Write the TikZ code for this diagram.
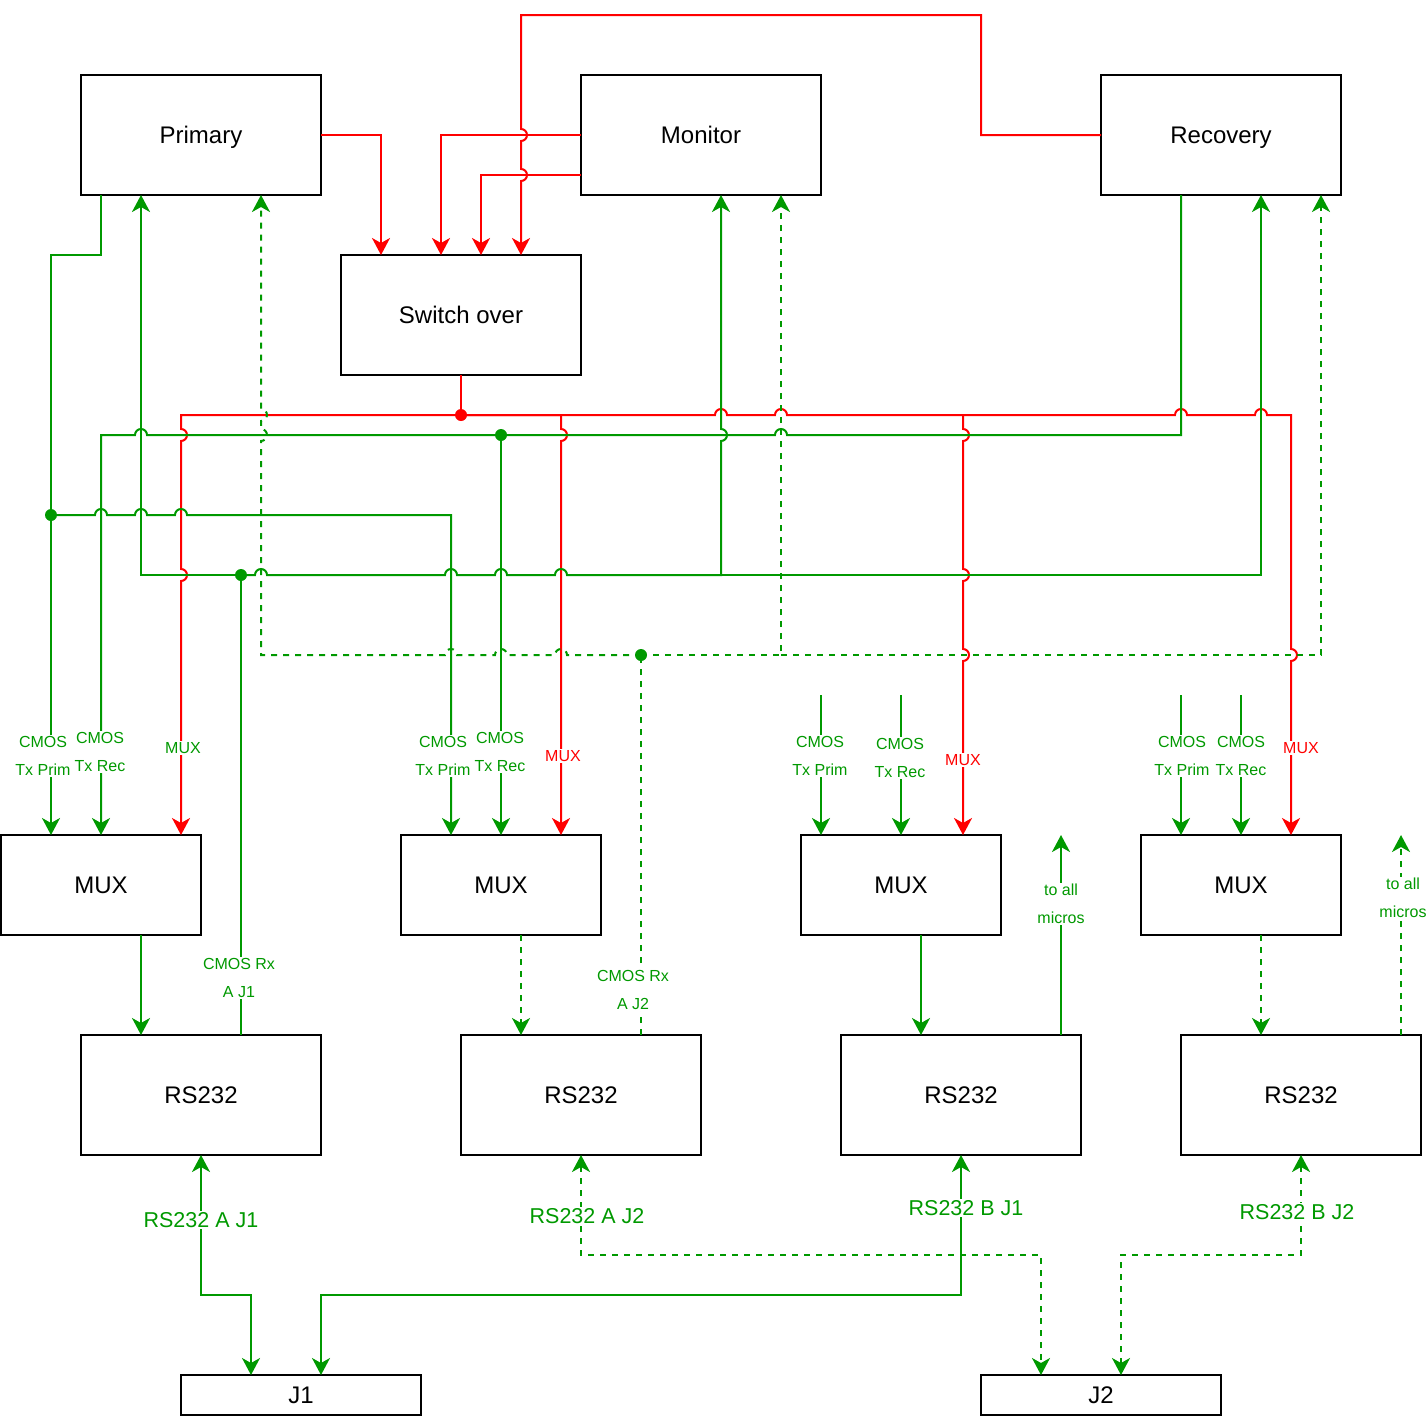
\documentclass[tikz,border=0pt]{standalone}
\usepackage{fontspec}
\setmainfont{Liberation Sans}
\usetikzlibrary{arrows.meta}
\definecolor{gcol}{HTML}{009900}
\definecolor{rcol}{HTML}{FF0000}
\newcommand{\jumpR}[2]{-- (#1-6,#2) arc[start angle=180,end angle=0,radius=6pt]}
\newcommand{\jumpL}[2]{-- (#1+6,#2) arc[start angle=0,end angle=180,radius=6pt]}
\newcommand{\jumpD}[2]{-- (#1,#2-6) arc[start angle=90,end angle=-90,radius=6pt]}
\newcommand{\jumpU}[2]{-- (#1,#2+6) arc[start angle=-90,end angle=90,radius=6pt]}

\begin{document}
\begin{tikzpicture}[
  x=1pt, y=-1pt,
  box/.style={draw, line width=2pt, outer sep=0pt, minimum width=240pt, minimum height=120pt, text height=17pt, text depth=0pt, font=\fontsize{24}{28}\selectfont},
  muxbox/.style={box, minimum width=200pt, minimum height=100pt},
  jbox/.style={box, minimum height=40pt},
  gline/.style={draw=gcol, line width=2pt},
  gdash/.style={gline, dash pattern=on 6pt off 6pt},
  rline/.style={draw=rcol, line width=2pt},
  glabel/.style={fill=white, text=gcol, align=center, inner sep=1pt, font=\fontsize{16}{28}\selectfont},
  rlabel/.style={glabel, text=rcol},
  biglabel/.style={glabel, font=\fontsize{21.5}{26}\selectfont},
  >={Stealth[length=17pt,width=18pt,inset=5pt]}
]
  \useasboundingbox (0,0) rectangle (1426,1416);

  \node[box] (prim) at (201,135) {Primary};
  \node[box] (mon) at (701,135) {Monitor};
  \node[box] (rec) at (1221,135) {Recovery};
  \node[box] (sw) at (461,315) {Switch over};

  \node[muxbox] (muxa) at (101,885) {MUX};
  \node[muxbox] (muxb) at (501,885) {MUX};
  \node[muxbox] (muxc) at (901,885) {MUX};
  \node[muxbox] (muxd) at (1241,885) {MUX};

  \node[box] (rsa) at (201,1095) {RS232};
  \node[box] (rsb) at (581,1095) {RS232};
  \node[box] (rsc) at (961,1095) {RS232};
  \node[box] (rsd) at (1301,1095) {RS232};

  \node[jbox] (ja) at (301,1395) {J1};
  \node[jbox] (jb) at (1101,1395) {J2};

  \coordinate (redbus) at (461,415);
  \coordinate (txp) at (51,515);
  \coordinate (txr) at (501,435);
  \coordinate (rxa) at (241,575);
  \coordinate (rxb) at (641,655);
  \coordinate (tpc) at (821,695);
  \coordinate (trc) at (901,695);
  \coordinate (tpd) at (1181,695);
  \coordinate (trd) at (1241,695);
  \coordinate (mca) at (1061,835);
  \coordinate (mcb) at (1401,835);

  % switch over control
  \draw[rline,->] (prim.east) -| ([xshift=-80pt]sw.north);
  \draw[rline,->] (mon.west) -- (441,135) -- ([xshift=-20pt]sw.north);
  \draw[rline,->] ([yshift=-40pt]mon.west) -- (481,175) -- ([xshift=20pt]sw.north);
  \draw[rline,->] (rec.west) -- (981,135) -- (981,15) -- (521,15) \jumpD{521}{135} \jumpD{521}{175} -- ([xshift=60pt]sw.north);

  % mux select bus
  \draw[rline] (sw.south) -- (redbus);
  \draw[rline,->] (redbus) -- (181,415) \jumpD{181}{435} \jumpD{181}{575} -- ([xshift=80pt]muxa.north);
  \draw[rline,->] (redbus) -- (561,415) \jumpD{561}{435} -- ([xshift=60pt]muxb.north);
  \draw[rline,->] (redbus) -- (561,415) \jumpR{721}{415} \jumpR{781}{415} -- (963,415) \jumpD{963}{435} \jumpD{963}{575} \jumpD{963}{655} -- ([xshift=62pt]muxc.north);
  \draw[rline,->] (963,415) \jumpR{1181}{415} \jumpR{1261}{415} -- (1291,415) \jumpD{1291}{655} -- ([xshift=50pt]muxd.north);

  % CMOS Tx
  \draw[gline,->] ([xshift=-100pt]prim.south) -- (101,255) -- (51,255) -- ([xshift=-50pt]muxa.north);
  \draw[gline,->] (txp) \jumpR{101}{515} \jumpR{141}{515} \jumpR{181}{515} -- (451,515) -- ([xshift=-50pt]muxb.north);
  \draw[gline,->] ([xshift=-40pt]rec.south) -- (1181,435) \jumpL{781}{435} \jumpL{141}{435} -- (101,435) -- (muxa.north);
  \draw[gline,->] (txr) -- (muxb.north);
  \draw[gline,->] (tpc) -- ([xshift=-80pt]muxc.north);
  \draw[gline,->] (trc) -- (muxc.north);
  \draw[gline,->] (tpd) -- ([xshift=-60pt]muxd.north);
  \draw[gline,->] (trd) -- (muxd.north);

  % CMOS Rx
  \draw[gline] ([xshift=40pt]rsa.north) -- (rxa);
  \draw[gline,->] (rxa) -- (141,575) -- ([xshift=-60pt]prim.south);
  \draw[gline,->] (rxa) \jumpR{261}{575} \jumpR{451}{575} \jumpR{501}{575} \jumpR{561}{575} -- (721,575) \jumpU{721}{435} -- ([xshift=20pt]mon.south);
  \draw[gline,->] (721,575) -- (1261,575) -- ([xshift=40pt]rec.south);
  \draw[gdash] ([xshift=60pt]rsb.north) -- (rxb);
  \draw[gdash,->] (rxb) \jumpL{561}{655} \jumpL{501}{655} \jumpL{451}{655} -- (261,655) \jumpU{261}{435} \jumpU{261}{415} -- ([xshift=60pt]prim.south);
  \draw[gdash,->] (rxb) -- (781,655) -- ([xshift=80pt]mon.south);
  \draw[gdash,->] (781,655) -- (1321,655) -- ([xshift=100pt]rec.south);

  % mux to rs232
  \draw[gline,->] ([xshift=40pt]muxa.south) -- ([xshift=-60pt]rsa.north);
  \draw[gdash,->] ([xshift=20pt]muxb.south) -- ([xshift=-60pt]rsb.north);
  \draw[gline,->] ([xshift=20pt]muxc.south) -- ([xshift=-40pt]rsc.north);
  \draw[gdash,->] ([xshift=20pt]muxd.south) -- ([xshift=-40pt]rsd.north);
  \draw[gline,->] ([xshift=100pt]rsc.north) -- (mca);
  \draw[gdash,->] ([xshift=100pt]rsd.north) -- (mcb);

  % connectors
  \draw[gline,<->] (rsa.south) -- (201,1295) -- (251,1295) -- ([xshift=-50pt]ja.north);
  \draw[gline,<->] (rsc.south) -- (961,1295) -- (321,1295) -- ([xshift=20pt]ja.north);
  \draw[gdash,<->] (rsb.south) -- (581,1255) -- (1041,1255) -- ([xshift=-60pt]jb.north);
  \draw[gdash,<->] (rsd.south) -- (1301,1255) -- (1121,1255) -- ([xshift=20pt]jb.north);

  \fill[rcol] (redbus) circle[radius=6pt];
  \fill[gcol] (txp) circle[radius=6pt];
  \fill[gcol] (txr) circle[radius=6pt];
  \fill[gcol] (rxa) circle[radius=6pt];
  \fill[gcol] (rxb) circle[radius=6pt];

  \node[glabel] (lpa) at (43,756) {CMOS\\Tx Prim};
  \node[glabel] (lra) at (100,752) {CMOS\\Tx Rec};
  \node[glabel] (lma) at (183,748) {MUX};
  \node[glabel] (lpb) at (443,756) {CMOS\\Tx Prim};
  \node[glabel] (lrb) at (500,752) {CMOS\\Tx Rec};
  \node[rlabel] (lmb) at (563,756) {MUX};
  \node[glabel] (lpc) at (820,756) {CMOS\\Tx Prim};
  \node[glabel] (lrc) at (900,758) {CMOS\\Tx Rec};
  \node[rlabel] (lmc) at (963,760) {MUX};
  \node[glabel] (lpd) at (1182,756) {CMOS\\Tx Prim};
  \node[glabel] (lrd) at (1241,756) {CMOS\\Tx Rec};
  \node[rlabel] (lmd) at (1301,748) {MUX};

  \node[glabel] (lrxa) at (239,978) {CMOS Rx\\A J1};
  \node[glabel] (lrxb) at (633,990) {CMOS Rx\\A J2};
  \node[glabel] (lmca) at (1061,904) {to all\\micros};
  \node[glabel] (lmcb) at (1403,898) {to all\\micros};

  \node[biglabel] (lja) at (201,1220) {RS232 A J1};
  \node[biglabel] (ljb) at (587,1216) {RS232 A J2};
  \node[biglabel] (ljc) at (966,1208) {RS232 B J1};
  \node[biglabel] (ljd) at (1297,1212) {RS232 B J2};
\end{tikzpicture}
\end{document}
